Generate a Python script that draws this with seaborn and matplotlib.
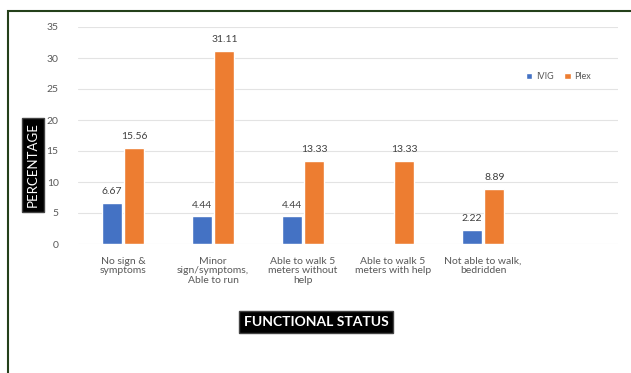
import matplotlib
matplotlib.use("Agg")
import matplotlib.pyplot as plt
import matplotlib.patches as mpatches
import seaborn as sns
import pandas as pd
import numpy as np

categories = ["No sign &\nsymptoms", "Minor\nsign/symptoms,\nAble to run",
              "Able to walk 5\nmeters without\nhelp", "Able to walk 5\nmeters with help",
              "Not able to walk,\nbedridden"]
ivig = [6.67, 4.44, 4.44, np.nan, 2.22]
plex = [15.56, 31.11, 13.33, 13.33, 8.89]
series = ["IVIG", "Plex"]
colors = ["#4472C4", "#ED7D31"]

df = pd.DataFrame({
    "cat": categories * 2,
    "series": ["IVIG"] * 5 + ["Plex"] * 5,
    "val": ivig + plex,
})

sns.set_theme(style="white")
plt.rcParams['font.family'] = ['Lato', 'DejaVu Sans']

fig = plt.figure(figsize=(6.31, 3.73), dpi=100)
ax = fig.add_axes([78/631, 1-244/373, 540/631, 217/373])

sns.barplot(data=df, x="cat", y="val", hue="series", palette=colors,
            width=0.51, gap=0.13, ax=ax, saturation=1, legend=True, errorbar=None)

for cont in ax.containers:
    labels = ["" if np.isnan(v) else f"{v:.2f}" for v in cont.datavalues]
    ax.bar_label(cont, labels=labels, padding=5, fontsize=7.5, color="#404040")

ax.set_xlim(-0.5, 5.5)
ax.set_ylim(0, 35)
ax.set_yticks(range(0, 36, 5))
ax.yaxis.grid(True, color="#e3e3e3", lw=0.8)
ax.set_axisbelow(True)
for s in ax.spines.values():
    s.set_visible(False)
ax.tick_params(axis="both", length=0, labelsize=7.5, colors="#595959", pad=9)
ax.tick_params(axis="y", pad=14)
ax.set_xlabel("")
ax.set_ylabel("")
for t in ax.get_xticklabels():
    t.set_linespacing(1.1)
    t.set_verticalalignment("top")

leg = ax.legend(loc="upper right", bbox_to_anchor=(0.965, 0.83), ncol=2, frameon=False,
                fontsize=6.5, handlelength=0.7, handleheight=0.7, columnspacing=1.2,
                handletextpad=0.4, labelcolor="#595959")

fig.text(33/631, 1-165/373, "PERCENTAGE", rotation=90, ha="center", va="center",
         fontsize=9.5, color="white",
         bbox=dict(boxstyle="square,pad=0.35", facecolor="black", edgecolor="#444444"))
fig.text(316/631, 1-322/373, "FUNCTIONAL STATUS", ha="center", va="center",
         fontsize=10, color="white", fontweight="bold",
         bbox=dict(boxstyle="square,pad=0.35", facecolor="black", edgecolor="#444444"))

frame = mpatches.Rectangle((8/631, -0.1), 1.2, 1.1 - 11/373, transform=fig.transFigure,
                           fill=False, edgecolor="#24401a", lw=1.5, clip_on=False)
fig.add_artist(frame)

fig.savefig("out.png", dpi=100)
